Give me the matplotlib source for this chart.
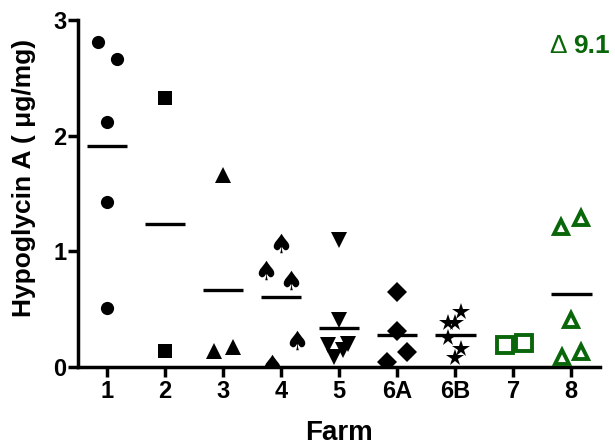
import matplotlib
matplotlib.use("Agg")
import matplotlib.pyplot as plt
import numpy as np

plt.rcParams['font.family'] = ['Liberation Sans', 'DejaVu Sans']
plt.rcParams['font.weight'] = 'bold'

## data
farms = ['1', '2', '3', '4', '5', '6A', '6B', '7', '8']
values = [
    [2.81, 2.66, 2.12, 1.43, 0.51],
    [2.33, 0.14],
    [1.66, 0.14, 0.17],
    [1.07, 0.84, 0.75, 0.23, 0.03],
    [1.10, 0.41, 0.19, 0.09, 0.20, 0.15],
    [0.65, 0.31, 0.13, 0.04],
    [0.48, 0.38, 0.38, 0.25, 0.16, 0.08],
    [0.19, 0.21],
    [1.21, 1.29, 0.41, 0.09, 0.13],
]
# horizontal scatter of each point (in category units)
x_jitter = [
    [-0.16, 0.17, 0.0, 0.0, 0.0],
    [0.0, 0.0],
    [0.0, -0.16, 0.17],
    [0.0, -0.26, 0.17, 0.28, -0.16],
    [0.0, 0.0, -0.19, -0.09, 0.16, 0.07],
    [0.0, 0.0, 0.17, -0.17],
    [0.10, -0.12, 0.0, -0.12, 0.10, 0.0],
    [-0.14, 0.19],
    [-0.17, 0.17, 0.0, -0.16, 0.17],
]
means = [1.91, 1.24, 0.67, 0.61, 0.34, 0.28, 0.28, np.nan, 0.63]
outlier_label = '9.1'

green = '#0a660a'
# marker, size, face, edge, edge width
styles = [
    ('o', 9.5, 'black', 'black', 0),
    ('s', 10.5, 'black', 'black', 0),
    ('^', 11, 'black', 'black', 0),
    (r'$\spadesuit$', 14, 'black', 'black', 0),
    ('v', 11, 'black', 'black', 0),
    ('D', 10, 'black', 'black', 0),
    ('*', 13, 'black', 'black', 0),
    ('s', 11.5, 'white', green, 2.8),
    ('^', 10.5, 'white', green, 2.8),
]

fig = plt.figure(figsize=(6.15, 4.46), dpi=100)
ax = fig.add_axes([0.127, 0.177, 0.849, 0.778])

pos = np.arange(1, len(farms) + 1)
for i, (vals, jit) in enumerate(zip(values, x_jitter)):
    m, ms, fc, ec, mew = styles[i]
    xs = pos[i] + np.array(jit)
    ax.plot(xs, vals, linestyle='none', marker=m, markersize=ms,
            markerfacecolor=fc, markeredgecolor=ec, markeredgewidth=mew,
            zorder=3)

ax.hlines(means, pos - 0.35, pos + 0.35, colors='black', linewidth=2.4, zorder=2)

ax.set_xlim(0.5, 9.5)
ax.set_ylim(0, 3)
ax.set_xticks(pos)
ax.set_xticklabels(farms)
ax.set_yticks([0, 1, 2, 3])

for s in ['top', 'right']:
    ax.spines[s].set_visible(False)
for s in ['left', 'bottom']:
    ax.spines[s].set_linewidth(2.5)
ax.tick_params(width=2.5, length=7.5, labelsize=17)
ax.tick_params(axis='x', pad=2)
ax.tick_params(axis='y', pad=1)

ax.set_xlabel('Farm', fontsize=20, fontweight='bold', labelpad=12)
ax.set_ylabel('Hypoglycin A ( \u03bcg/mg)', fontsize=19, fontweight='bold')
ax.yaxis.set_label_coords(-0.08, 0.545)

# off-scale point of farm 8
ax.text(0.903, 0.905, '\u0394', transform=ax.transAxes, color=green,
        fontsize=19, fontweight='normal', ha='left', va='baseline')
ax.text(0.948, 0.905, outlier_label, transform=ax.transAxes, color=green,
        fontsize=19, fontweight='bold', ha='left', va='baseline')

fig.savefig('out.png', dpi=100)
